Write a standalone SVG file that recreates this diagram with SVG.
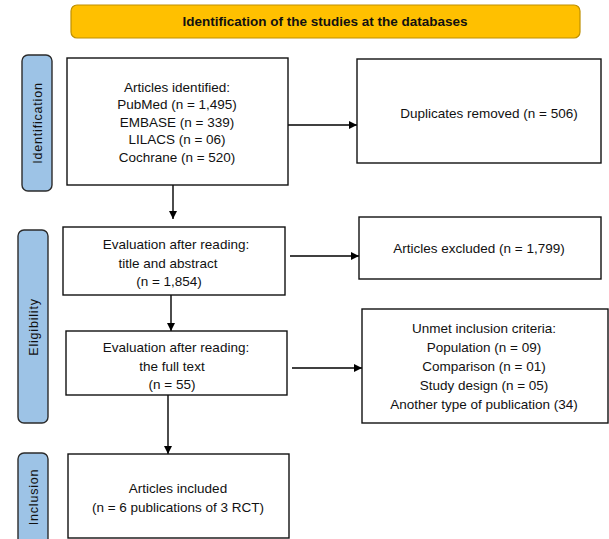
<svg xmlns="http://www.w3.org/2000/svg" width="609" height="539" viewBox="0 0 609 539">
<style>
text{font-family:"Liberation Sans",Arial,sans-serif;font-size:13.5px;fill:#111;text-anchor:middle}
.box{fill:#fff;stroke:#111;stroke-width:1.4}
.side{fill:#9DC3E6;stroke:#2b2b2b;stroke-width:1.4}
.side-t{font-size:12.5px;letter-spacing:0.8px}
.title{fill:#FFC000;stroke:#BF9000;stroke-width:1.2}
.title-t{font-weight:bold;font-size:13.5px}
.conn{stroke:#000;stroke-width:1.4;fill:none;marker-end:url(#ah)}
</style>
<defs>
<marker id="ah" viewBox="0 0 10 10" refX="10" refY="5" markerWidth="8" markerHeight="8" markerUnits="userSpaceOnUse" orient="auto">
<path d="M0,0 L10,5 L0,10 z" fill="#000"/>
</marker>
</defs>
<rect width="609" height="539" fill="#fff"/>
<g id="title">
<rect class="title" x="71" y="5" width="509" height="33" rx="6"/>
<text class="title-t" x="325" y="26">Identification of the studies at the databases</text>
</g>
<g id="side-identification">
<rect class="side" x="22" y="55" width="30" height="136" rx="6"/>
<text class="side-t" transform="translate(41.5,123) rotate(-90)">Identification</text>
</g>
<g id="side-eligibility">
<rect class="side" x="18" y="230" width="30" height="193" rx="6"/>
<text class="side-t" transform="translate(37.5,327) rotate(-90)">Eligibility</text>
</g>
<g id="side-inclusion">
<rect class="side" x="18" y="453" width="30" height="100" rx="6"/>
<text class="side-t" transform="translate(37.5,497) rotate(-90)">Inclusion</text>
</g>
<g id="connectors">
<line class="conn" x1="288" y1="125" x2="357" y2="125"/>
<line class="conn" x1="173" y1="185" x2="173" y2="219"/>
<line class="conn" x1="290" y1="256" x2="359" y2="256"/>
<line class="conn" x1="171" y1="295" x2="171" y2="331"/>
<line class="conn" x1="292" y1="368" x2="362" y2="368"/>
<line class="conn" x1="168" y1="395" x2="168" y2="454"/>
</g>
<g id="articles-identified">
<rect class="box" x="67" y="58" width="221" height="127"/>
<text x="177" y="91.5">Articles identified:</text>
<text x="177" y="109">PubMed (n = 1,495)</text>
<text x="177" y="126.5">EMBASE (n = 339)</text>
<text x="177" y="144">LILACS (n = 06)</text>
<text x="177" y="161.5">Cochrane (n = 520)</text>
</g>
<g id="duplicates">
<rect class="box" x="357" y="59" width="244" height="104"/>
<text x="489" y="117.5">Duplicates removed (n = 506)</text>
</g>
<g id="eval-title">
<rect class="box" x="63" y="227" width="222" height="68"/>
<text x="176" y="249">Evaluation after reading:</text>
<text x="168" y="267.5">title and abstract</text>
<text x="169" y="286">(n = 1,854)</text>
</g>
<g id="excluded">
<rect class="box" x="359" y="217" width="242" height="62"/>
<text x="479" y="253">Articles excluded (n = 1,799)</text>
</g>
<g id="eval-full">
<rect class="box" x="66" y="331" width="221" height="64"/>
<text x="176" y="352">Evaluation after reading:</text>
<text x="172" y="370.5">the full text</text>
<text x="172" y="389">(n = 55)</text>
</g>
<g id="unmet">
<rect class="box" x="362" y="309" width="246" height="114"/>
<text x="484" y="333">Unmet inclusion criteria:</text>
<text x="484" y="352">Population (n = 09)</text>
<text x="484" y="371">Comparison (n = 01)</text>
<text x="484" y="390">Study design (n = 05)</text>
<text x="484" y="409">Another type of publication (34)</text>
</g>
<g id="included">
<rect class="box" x="68" y="454" width="221" height="84"/>
<text x="178" y="493">Articles included</text>
<text x="178" y="511.5">(n = 6 publications of 3 RCT)</text>
</g>
</svg>
